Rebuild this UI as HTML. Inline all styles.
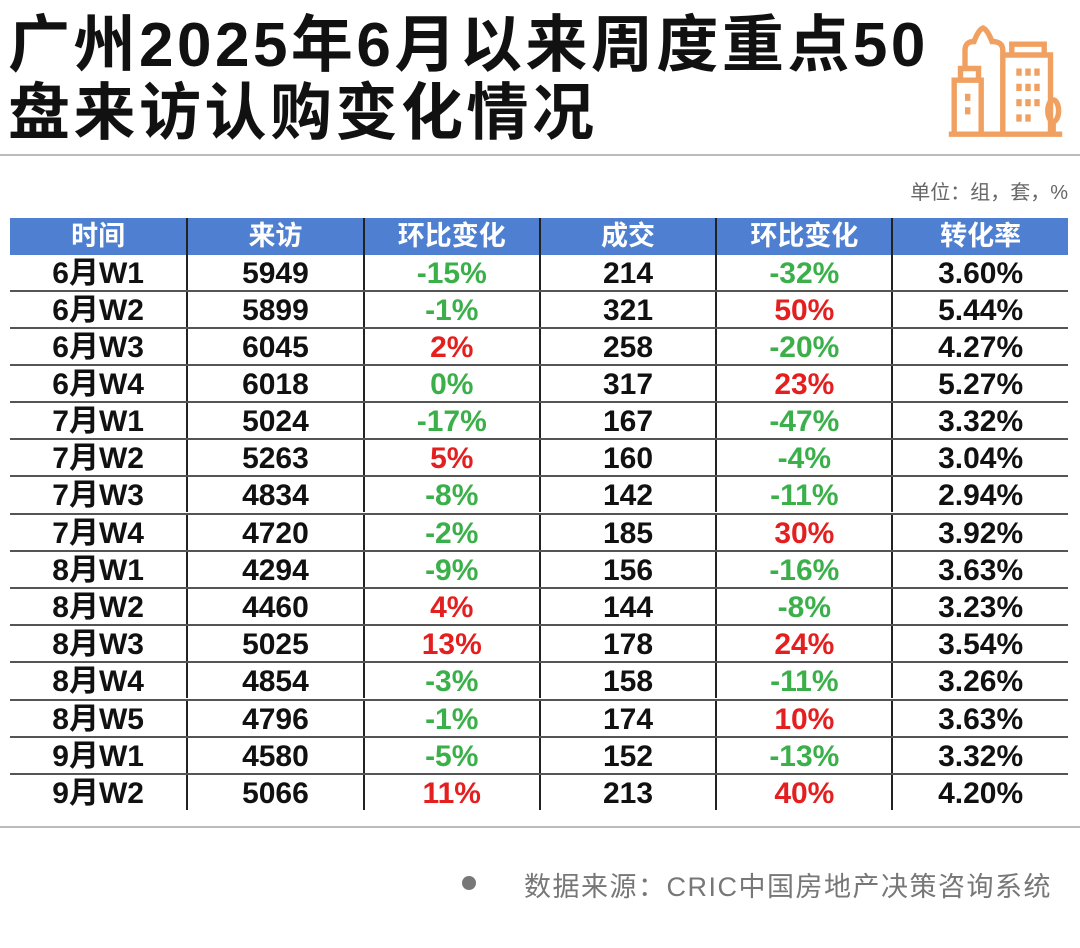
<!DOCTYPE html>
<html><head><meta charset="utf-8"><style>
body{margin:0;width:1080px;height:948px;background:#fff;position:relative;overflow:hidden;font-family:"Liberation Sans","Noto Sans CJK SC",sans-serif}
.t{position:absolute;left:8px;font-size:62px;font-weight:bold;color:#111;letter-spacing:3.5px;line-height:66px;white-space:nowrap}
.row{position:absolute;left:10px;width:1058px;height:37px;display:flex;border-top:2px solid #555;box-sizing:border-box}
.row div{width:176.3px;height:35px;line-height:37px;text-align:center;font-size:30px;font-weight:bold;color:#111;border-left:2px solid #222;box-sizing:border-box;white-space:nowrap}
.row div:first-child{border-left:none}
.hd{background:#4f7fd0;border-top:none}
.hd div{color:#fff;font-size:27px;height:37px;line-height:37px}
.g{color:#3bb04a!important}.r{color:#e41f1f!important}
</style></head><body>
<div class="t" style="top:13px">广州2025年6月以来周度重点50</div>
<div class="t" style="top:81px">盘来访认购变化情况</div>
<svg style="position:absolute;left:938px;top:10px" width="135" height="135" viewBox="0 0 150 150" fill="none" stroke="#f0a060" stroke-width="6">
<path d="M18 135 V78 H48 V135"/><path d="M25 78 V65 H45 V78"/><path d="M30 64 V45 Q30 35 40 35 Q45 22 50 20 Q55 22 60 35 Q72 35 72 45 V135"/><path d="M72 50 H125 V135"/><path d="M82 50 V38 H118 V50"/>
<path d="M90 65v8M100 65v8M110 65v8M90 82v8M100 82v8M110 82v8M90 99v8M100 99v8M110 99v8M90 116v8M100 116v8M33 93v8M33 108v8"/>
<ellipse cx="128" cy="112" rx="6" ry="12"/><path d="M128 124v12"/><path d="M12 138H138"/>
</svg>
<div style="position:absolute;left:0;top:154px;width:1080px;height:2px;background:#bbb"></div>
<div style="position:absolute;right:12px;top:176px;font-size:20px;color:#666">单位：组，套，%</div>
<div class="row hd" style="top:218px"><div>时间</div><div>来访</div><div>环比变化</div><div>成交</div><div>环比变化</div><div>转化率</div></div>
<div class="row" style="top:255px;border-top:none;height:35px"><div>6月W1</div><div>5949</div><div class="g">-15%</div><div>214</div><div class="g">-32%</div><div>3.60%</div></div>
<div class="row" style="top:290px"><div>6月W2</div><div>5899</div><div class="g">-1%</div><div>321</div><div class="r">50%</div><div>5.44%</div></div>
<div class="row" style="top:327px"><div>6月W3</div><div>6045</div><div class="r">2%</div><div>258</div><div class="g">-20%</div><div>4.27%</div></div>
<div class="row" style="top:364px"><div>6月W4</div><div>6018</div><div class="g">0%</div><div>317</div><div class="r">23%</div><div>5.27%</div></div>
<div class="row" style="top:401px"><div>7月W1</div><div>5024</div><div class="g">-17%</div><div>167</div><div class="g">-47%</div><div>3.32%</div></div>
<div class="row" style="top:438px"><div>7月W2</div><div>5263</div><div class="r">5%</div><div>160</div><div class="g">-4%</div><div>3.04%</div></div>
<div class="row" style="top:475px"><div>7月W3</div><div>4834</div><div class="g">-8%</div><div>142</div><div class="g">-11%</div><div>2.94%</div></div>
<div class="row" style="top:513px"><div>7月W4</div><div>4720</div><div class="g">-2%</div><div>185</div><div class="r">30%</div><div>3.92%</div></div>
<div class="row" style="top:550px"><div>8月W1</div><div>4294</div><div class="g">-9%</div><div>156</div><div class="g">-16%</div><div>3.63%</div></div>
<div class="row" style="top:587px"><div>8月W2</div><div>4460</div><div class="r">4%</div><div>144</div><div class="g">-8%</div><div>3.23%</div></div>
<div class="row" style="top:624px"><div>8月W3</div><div>5025</div><div class="r">13%</div><div>178</div><div class="r">24%</div><div>3.54%</div></div>
<div class="row" style="top:661px"><div>8月W4</div><div>4854</div><div class="g">-3%</div><div>158</div><div class="g">-11%</div><div>3.26%</div></div>
<div class="row" style="top:699px"><div>8月W5</div><div>4796</div><div class="g">-1%</div><div>174</div><div class="r">10%</div><div>3.63%</div></div>
<div class="row" style="top:736px"><div>9月W1</div><div>4580</div><div class="g">-5%</div><div>152</div><div class="g">-13%</div><div>3.32%</div></div>
<div class="row" style="top:773px"><div>9月W2</div><div>5066</div><div class="r">11%</div><div>213</div><div class="r">40%</div><div>4.20%</div></div>
<div style="position:absolute;left:0;top:826px;width:1080px;height:2px;background:#bbb"></div>
<div style="position:absolute;left:462px;top:876px;width:14px;height:14px;border-radius:50%;background:#777"></div>
<div style="position:absolute;left:524px;top:865px;font-size:27px;color:#777;letter-spacing:1.5px">数据来源：CRIC中国房地产决策咨询系统</div>
</body></html>
